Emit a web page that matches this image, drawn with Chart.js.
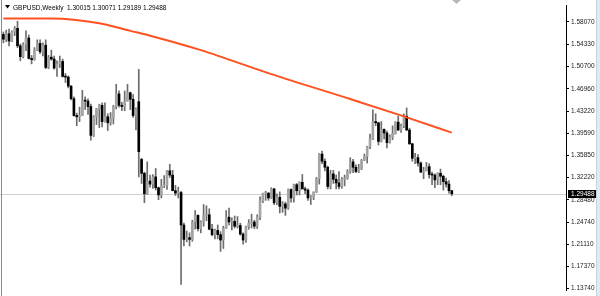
<!DOCTYPE html>
<html lang="en">
<head>
<meta charset="UTF-8" />
<title>GBPUSD,Weekly</title>
<script src="https://cdn.jsdelivr.net/npm/chart.js"></script>
<style>
  html, body { margin: 0; padding: 0; background: #fff; }
  canvas { display: block; }
</style>
</head>
<body>
<canvas id="chart" width="600" height="296"></canvas>
<script>
const symbol = 'GBPUSD';
const period = 'Weekly';

// weekly candles, oldest first
const opens = [
  1.5600,1.5520,1.5610,1.5490,1.5640,1.5700,1.5410,1.5230,1.5430,1.5540,
  1.5200,1.5180,1.5340,1.5450,1.5310,1.5420,1.5050,1.5220,1.5190,1.5040,
  1.5110,1.5150,1.4900,1.4890,1.4740,1.4530,1.4250,1.4230,1.4250,1.4500,
  1.4490,1.4400,1.3920,1.4230,1.4360,1.4420,1.4150,1.4230,1.4130,1.4200,
  1.4400,1.4610,1.4420,1.4400,1.4490,1.4630,1.4520,1.4250,1.4480,1.3520,
  1.3290,1.2950,1.3160,1.3110,1.3230,1.3050,1.2930,1.3080,1.3090,1.3330,
  1.3260,1.3000,1.2960,1.2970,1.2430,1.2190,1.2220,1.2190,1.2480,1.2590,
  1.2370,1.2480,1.2590,1.2600,1.2360,1.2270,1.2340,1.2270,1.2180,1.2370,
  1.2560,1.2480,1.2490,1.2410,1.2420,1.2280,1.2180,1.2400,1.2460,1.2480,
  1.2410,1.2560,1.2830,1.2950,1.2960,1.2880,1.3030,1.2800,1.2890,1.2740,
  1.2780,1.2710,1.3020,1.2880,1.3100,1.3000,1.3140,1.3030,1.3010,1.2880,
  1.2890,1.2980,1.3200,1.3610,1.3490,1.3390,1.3070,1.3280,1.3190,1.3130,
  1.3070,1.3190,1.3210,1.3320,1.3480,1.3390,1.3320,1.3360,1.3510,1.3570,
  1.3730,1.3860,1.4150,1.4130,1.3820,1.4020,1.3960,1.3800,1.3890,1.3950,
  1.4140,1.4010,1.4080,1.4240,1.4010,1.3780,1.3540,1.3550,1.3460,1.3310,
  1.3330,1.3400,1.3270,1.3260,1.3180,1.3290,1.3240,1.3150,1.3110,1.30015
];
const highs = [
  1.5640,1.5670,1.5690,1.5660,1.5730,1.5820,1.5440,1.5460,1.5660,1.5590,
  1.5250,1.5380,1.5510,1.5510,1.5460,1.5510,1.5250,1.5340,1.5240,1.5160,
  1.5240,1.5190,1.4950,1.4910,1.4750,1.4560,1.4290,1.4390,1.4670,1.4560,
  1.4530,1.4440,1.4250,1.4370,1.4440,1.4460,1.4460,1.4280,1.4300,1.4420,
  1.4770,1.4660,1.4470,1.4660,1.4770,1.4640,1.4600,1.4380,1.5018,1.3540,
  1.3310,1.3480,1.3260,1.3270,1.3370,1.3060,1.3190,1.3250,1.3340,1.3440,
  1.3340,1.3090,1.3060,1.2990,1.2460,1.2330,1.2300,1.2510,1.2670,1.2600,
  1.2500,1.2770,1.2750,1.2700,1.2440,1.2360,1.2430,1.2320,1.2410,1.2670,
  1.2710,1.2550,1.2580,1.2570,1.2460,1.2300,1.2410,1.2520,1.2610,1.2510,
  1.2600,1.2900,1.2960,1.2990,1.2970,1.3050,1.3040,1.2950,1.2980,1.2820,
  1.2810,1.3030,1.3030,1.3110,1.3120,1.3150,1.3270,1.3060,1.3030,1.2920,
  1.2980,1.3220,1.3620,1.3660,1.3530,1.3410,1.3340,1.3340,1.3260,1.3320,
  1.3220,1.3260,1.3350,1.3550,1.3520,1.3430,1.3440,1.3520,1.3610,1.3740,
  1.3940,1.4345,1.4280,1.4140,1.4150,1.4030,1.3990,1.3930,1.4080,1.4150,
  1.4240,1.4110,1.4280,1.4377,1.4040,1.3790,1.3620,1.3600,1.3480,1.3390,
  1.3470,1.3450,1.3310,1.3280,1.3300,1.3360,1.3260,1.3210,1.3170,1.30071
];
const lows = [
  1.5460,1.5480,1.5410,1.5480,1.5580,1.5380,1.5160,1.5210,1.5330,1.5190,
  1.5110,1.5170,1.5330,1.5280,1.5240,1.5030,1.5030,1.5170,1.5020,1.4900,
  1.5050,1.4890,1.4800,1.4710,1.4510,1.4240,1.4080,1.4150,1.4250,1.4350,
  1.4270,1.3840,1.3900,1.4100,1.4050,1.4060,1.4140,1.4000,1.4090,1.4110,
  1.4360,1.4390,1.4330,1.4330,1.4490,1.4350,1.4220,1.4010,1.3229,1.3120,
  1.2800,1.2940,1.3060,1.3040,1.3010,1.2850,1.2880,1.3050,1.3020,1.3220,
  1.3000,1.2920,1.2880,1.1443,1.2080,1.2150,1.2080,1.2160,1.2360,1.2330,
  1.2300,1.2410,1.2500,1.2350,1.2250,1.2200,1.2200,1.1990,1.2040,1.2370,
  1.2430,1.2350,1.2380,1.2380,1.2260,1.2110,1.2140,1.2360,1.2380,1.2370,
  1.2370,1.2520,1.2800,1.2840,1.2840,1.2870,1.2770,1.2770,1.2630,1.2640,
  1.2590,1.2690,1.2810,1.2810,1.2930,1.2930,1.3030,1.2950,1.2840,1.2770,
  1.2850,1.2970,1.3110,1.3450,1.3330,1.3030,1.3030,1.3120,1.3030,1.3030,
  1.3040,1.3080,1.3190,1.3290,1.3300,1.3300,1.3300,1.3350,1.3500,1.3460,
  1.3700,1.3850,1.4080,1.3760,1.3810,1.3860,1.3710,1.3790,1.3850,1.3940,
  1.4000,1.3970,1.4050,1.4000,1.3770,1.3490,1.3450,1.3410,1.3300,1.3200,
  1.3330,1.3210,1.3100,1.3050,1.3100,1.3100,1.3010,1.3060,1.2960,1.29189
];
const closes = [
  1.5520,1.5610,1.5490,1.5640,1.5700,1.5410,1.5230,1.5430,1.5540,1.5200,
  1.5180,1.5340,1.5450,1.5310,1.5420,1.5050,1.5220,1.5190,1.5040,1.5110,
  1.5150,1.4900,1.4890,1.4740,1.4530,1.4250,1.4230,1.4250,1.4500,1.4490,
  1.4400,1.3920,1.4230,1.4360,1.4420,1.4150,1.4230,1.4130,1.4200,1.4400,
  1.4610,1.4420,1.4400,1.4490,1.4630,1.4520,1.4250,1.4360,1.3650,1.3290,
  1.2950,1.3160,1.3110,1.3230,1.3050,1.2930,1.3080,1.3090,1.3330,1.3260,
  1.3000,1.2960,1.2970,1.2430,1.2190,1.2220,1.2190,1.2480,1.2590,1.2370,
  1.2480,1.2590,1.2600,1.2360,1.2270,1.2340,1.2270,1.2180,1.2370,1.2560,
  1.2480,1.2490,1.2410,1.2420,1.2280,1.2180,1.2400,1.2460,1.2480,1.2410,
  1.2560,1.2830,1.2950,1.2960,1.2880,1.3030,1.2800,1.2890,1.2740,1.2780,
  1.2710,1.3020,1.2880,1.3100,1.3000,1.3140,1.3030,1.3010,1.2880,1.2890,
  1.2980,1.3200,1.3610,1.3490,1.3390,1.3070,1.3280,1.3190,1.3130,1.3070,
  1.3190,1.3210,1.3320,1.3480,1.3390,1.3320,1.3360,1.3510,1.3570,1.3730,
  1.3860,1.4150,1.4130,1.3820,1.4020,1.3960,1.3800,1.3890,1.3950,1.4140,
  1.4010,1.4080,1.4240,1.4010,1.3780,1.3540,1.3550,1.3460,1.3310,1.3330,
  1.3400,1.3270,1.3260,1.3180,1.3290,1.3240,1.3150,1.3110,1.3000,1.29488
];

// moving average (bar index -> value)
const maIndex  = [0, 17, 34, 45, 52, 70, 95, 123, 142, 159];
const maValues = [1.5866, 1.5866, 1.5787, 1.5659, 1.5579, 1.5339, 1.4940, 1.4525, 1.4237, 1.3966];

// price scale
const priceTicks = [1.58070, 1.54330, 1.50700, 1.46960, 1.43220, 1.39590, 1.35850,
                    1.32220, 1.28480, 1.24740, 1.21110, 1.17370, 1.13740];
const priceMin = 1.1347;
const priceMax = 1.6074;

// bar slots across the window, the empty ones are the chart shift on the right
const slotCount = 200;
const labels = Array.from({ length: slotCount }, (_, i) => 'w' + i);

const FONT = '"Liberation Sans", Arial, sans-serif';
const fmt = v => v.toFixed(5);

const wickData = lows.map((l, i) => [l, highs[i]]);
const bodyData = opens.map((o, i) => [o, closes[i]]);
const bodyColors = opens.map((o, i) => closes[i] >= o ? '#a4a4a4' : '#000000');
const maData = maIndex.map((k, i) => ({ x: labels[k], y: maValues[i] }));

const mtDecor = {
    id: 'mtDecor',
    beforeDatasetsDraw(chart) {
        const { ctx, chartArea, scales } = chart;
        const py = Math.round(scales.y.getPixelForValue(closes[closes.length - 1])) + 0.5;
        ctx.save();
        ctx.strokeStyle = '#cfcfcf';
        ctx.lineWidth = 1;
        ctx.beginPath();
        ctx.moveTo(0, py);
        ctx.lineTo(chartArea.right, py);
        ctx.stroke();
        ctx.restore();
    },
    afterDraw(chart) {
        const { ctx, chartArea, scales } = chart;
        const n = closes.length - 1;
        const py = Math.round(scales.y.getPixelForValue(closes[n]));
        ctx.save();

        // left frame line and right window edge
        ctx.fillStyle = '#8a8a8a';
        ctx.fillRect(1, 0, 1, chart.height);
        ctx.fillStyle = '#e2e9f1';
        ctx.fillRect(596, 0, 4, chart.height);
        ctx.fillStyle = '#c9d3de';
        ctx.fillRect(596, 0, 1, chart.height);

        // chart shift marker
        ctx.fillStyle = '#b8b8b8';
        ctx.beginPath();
        ctx.moveTo(452, 0);
        ctx.lineTo(461, 0);
        ctx.lineTo(456.5, 4);
        ctx.closePath();
        ctx.fill();

        // current price box
        ctx.fillStyle = '#000';
        ctx.fillRect(chartArea.right + 2, py - 4, 28, 8);
        ctx.fillStyle = '#fff';
        ctx.font = '6.5px ' + FONT;
        ctx.textBaseline = 'middle';
        ctx.textAlign = 'left';
        ctx.fillText(fmt(closes[n]), chartArea.right + 5, py + 0.5);

        // title
        ctx.fillStyle = '#000';
        ctx.beginPath();
        ctx.moveTo(5, 5);
        ctx.lineTo(10, 5);
        ctx.lineTo(7.5, 8.5);
        ctx.closePath();
        ctx.fill();
        ctx.font = '6.5px ' + FONT;
        ctx.textBaseline = 'alphabetic';
        const title = symbol + ',' + period + '  ' +
            fmt(opens[n]) + ' ' + fmt(highs[n]) + ' ' + fmt(lows[n]) + ' ' + fmt(closes[n]);
        ctx.fillText(title, 13, 9.5);
        ctx.restore();
    }
};

new Chart(document.getElementById('chart'), {
    type: 'bar',
    data: {
        labels: labels,
        datasets: [
            {
                label: 'range',
                data: wickData,
                backgroundColor: '#6c6c6c',
                barThickness: 1,
                grouped: false,
                order: 3
            },
            {
                label: 'body',
                data: bodyData,
                backgroundColor: bodyColors,
                barThickness: 2,
                minBarLength: 1,
                grouped: false,
                order: 2
            },
            {
                type: 'line',
                label: 'MA',
                data: maData,
                borderColor: '#ff5220',
                borderWidth: 2,
                pointRadius: 0,
                cubicInterpolationMode: 'monotone',
                order: 1
            }
        ]
    },
    options: {
        responsive: false,
        animation: false,
        layout: { padding: { left: 2, right: 0, top: 0, bottom: 0 } },
        plugins: {
            legend: { display: false },
            tooltip: { enabled: false }
        },
        scales: {
            x: { display: false },
            y: {
                position: 'right',
                min: priceMin,
                max: priceMax,
                afterBuildTicks: s => { s.ticks = priceTicks.map(v => ({ value: v })); },
                afterFit: s => { s.width = 34; },
                ticks: {
                    autoSkip: false,
                    padding: 2,
                    color: '#222',
                    font: { family: FONT, size: 6.5 },
                    callback: v => fmt(v)
                },
                grid: { drawOnChartArea: false, drawTicks: true, tickLength: 3, color: '#000' },
                border: { display: true, color: '#000' }
            }
        }
    },
    plugins: [mtDecor]
});
</script>
</body>
</html>
